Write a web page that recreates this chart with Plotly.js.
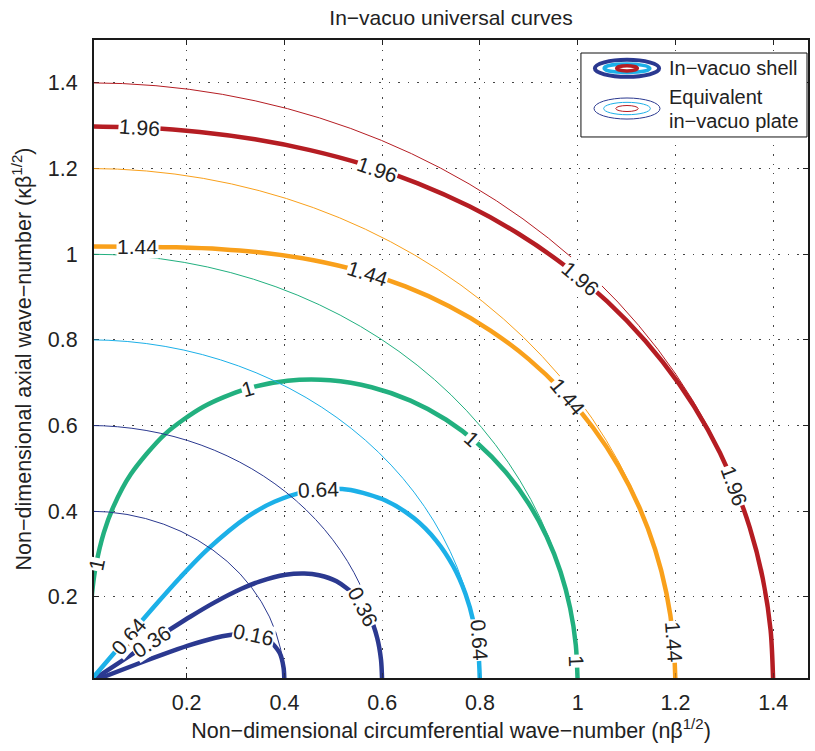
<!DOCTYPE html>
<html>
<head>
<meta charset="utf-8">
<script src="https://cdn.plot.ly/plotly-3.0.1.min.js"></script>
<style>html,body{margin:0;padding:0;background:#fff}#chart{width:815px;height:751px}</style>
</head>
<body>
<div id="chart"></div>
<script>
// ---- data ----
const levelNames = ["0.16", "0.36", "0.64", "1", "1.44", "1.96"];

// In-vacuo shell contours (non-dimensional n*beta^1/2, k*beta^1/2)
const shell016X = [0.4, 0.3983, 0.3904, 0.3682, 0.3408, 0.3105, 0.2884, 0.2570, 0.2014, 0.1504, 0.0949, 0];
const shell016Y = [0, 0.0348, 0.0688, 0.0987, 0.1107, 0.1130, 0.1107, 0.1039, 0.0855, 0.0651, 0.0414, 0];

const shell036X = [0.6, 0.5977, 0.5899, 0.5745, 0.5483, 0.5067, 0.4711, 0.4408, 0.4025, 0.3502, 0.3132, 0.2573, 0.2073, 0.1365, 0.0839, 0];
const shell036Y = [0, 0.0523, 0.1040, 0.1539, 0.1996, 0.2363, 0.2505, 0.2545, 0.2515, 0.2362, 0.2193, 0.1870, 0.1534, 0.1021, 0.0629, 0];

const shell064X = [0.8, 0.7969, 0.7874, 0.7706, 0.7454, 0.7105, 0.6647, 0.6069, 0.5356, 0.4849, 0.4469, 0.3806, 0.3249, 0.2423, 0.1877, 0.1382, 0.0961, 0];
const shell064Y = [0, 0.0697, 0.1388, 0.2065, 0.2713, 0.3313, 0.3838, 0.4250, 0.4494, 0.4522, 0.4469, 0.4226, 0.3872, 0.3101, 0.2464, 0.1834, 0.1279, 0];

const shell100X = [1, 0.9962, 0.9846, 0.9649, 0.9365, 0.8990, 0.8522, 0.7960, 0.7310, 0.6580, 0.5784, 0.4939, 0.4066, 0.3192, 0.2343, 0.1553, 0.0857, 0.0505, 0.0306, 0.0142, 0.0078, 0.0027];
const shell100Y = [0, 0.0872, 0.1736, 0.2585, 0.3408, 0.4192, 0.4920, 0.5574, 0.6134, 0.6580, 0.6893, 0.7054, 0.7043, 0.6845, 0.6438, 0.5794, 0.4861, 0.4112, 0.3497, 0.2716, 0.2221, 0.1571];

const shell144X = [1.2, 1.1954, 1.1816, 1.1585, 1.1258, 1.0834, 1.0313, 0.9699, 0.8997, 0.8217, 0.7371, 0.6474, 0.5544, 0.4596, 0.3648, 0.2711, 0.1792, 0.0890, 0];
const shell144Y = [0, 0.1046, 0.2084, 0.3104, 0.4098, 0.5052, 0.5954, 0.6791, 0.7550, 0.8217, 0.8785, 0.9246, 0.9602, 0.9857, 1.0022, 1.0116, 1.0160, 1.0176, 1.0179];

const shell196X = [1.4, 1.3947, 1.3786, 1.3519, 1.3144, 1.2662, 1.2075, 1.1386, 1.0603, 0.9734, 0.8790, 0.7784, 0.6728, 0.5638, 0.4524, 0.3398, 0.2266, 0.1133, 0];
const shell196Y = [0, 0.1220, 0.2431, 0.3622, 0.4784, 0.5904, 0.6971, 0.7973, 0.8897, 0.9734, 1.0476, 1.1116, 1.1654, 1.2090, 1.2430, 1.2682, 1.2853, 1.2951, 1.2984];

// Equivalent in-vacuo plate contours: circles of these radii
const plateRadius = [0.4, 0.6, 0.8, 1.0, 1.2, 1.4];

// Tick labels
const xTickVals = [0.2, 0.4, 0.6, 0.8, 1.0, 1.2, 1.4];
const xTickText = ["0.2", "0.4", "0.6", "0.8", "1", "1.2", "1.4"];
const yTickVals = [0.2, 0.4, 0.6, 0.8, 1.0, 1.2, 1.4];
const yTickText = ["0.2", "0.4", "0.6", "0.8", "1", "1.2", "1.4"];

// Contour labels (text, position on curve, rotation)
const labelText  = ["1.96", "1.96", "1.96", "1.96", "1.44", "1.44", "1.44", "1.44", "1", "1", "1", "1", "0.64", "0.64", "0.64", "0.36", "0.36", "0.16"];
const labelX     = [0.104, 0.590, 1.005, 1.320, 0.099, 0.571, 0.979, 1.196, 0.016, 0.326, 0.783, 0.9985, 0.081, 0.470, 0.7985, 0.128, 0.561, 0.336];
const labelY     = [1.296, 1.198, 0.943, 0.460, 1.0175, 0.954, 0.667, 0.095, 0.275, 0.686, 0.569, 0.050, 0.108, 0.451, 0.100, 0.096, 0.178, 0.111];
const labelAngle = [4, 19, 40, 70, 0, 18, 50, 86, -78, -16, 42, 88, -49, -2, 86, -33, 63, 12];

// ---- styles ----
const levelColors = ["#2B3990", "#2B3990", "#1CB0E8", "#22B07F", "#F9A01B", "#B51D23"];
const plateColors = ["#2B3990", "#2B3990", "#1CB0E8", "#22B07F", "#F9A01B", "#B51D23"];
const FONT = "Liberation Sans, Arial, Helvetica, sans-serif";
const FS = 21.5;

const shellXs = [shell016X, shell036X, shell064X, shell100X, shell144X, shell196X];
const shellYs = [shell016Y, shell036Y, shell064Y, shell100Y, shell144Y, shell196Y];

const traces = shellXs.map((xs, i) => ({
  type: "scatter", mode: "lines",
  x: xs, y: shellYs[i],
  name: levelNames[i],
  line: {color: levelColors[i], width: 4.5, shape: "spline", smoothing: 0.8},
  showlegend: false, hoverinfo: "skip"
}));

const shapes = plateRadius.map((r, i) => ({
  type: "circle", xref: "x", yref: "y",
  x0: -r, x1: r, y0: -r, y1: r,
  line: {color: plateColors[i], width: 1}, layer: "above"
}));

// custom legend box (paper coordinates)
shapes.push({type: "rect", xref: "paper", yref: "paper", x0: 0.682, x1: 0.9986, y0: 0.848, y1: 0.9796,
  line: {color: "#111", width: 1}, fillcolor: "#fff", layer: "above"});
function ell(cx, cy, rx, ry, color, w) {
  return {type: "circle", xref: "paper", yref: "paper", x0: cx - rx, x1: cx + rx, y0: cy - ry, y1: cy + ry,
    line: {color: color, width: w}, layer: "above"};
}
shapes.push(ell(0.7465, 0.9556, 0.0450, 0.0133, "#2B3990", 4));
shapes.push(ell(0.7465, 0.9556, 0.0320, 0.0066, "#1CB0E8", 3.5));
shapes.push(ell(0.7465, 0.9556, 0.0145, 0.0040, "#B51D23", 3.5));
shapes.push(ell(0.7465, 0.8926, 0.0462, 0.0165, "#2B3990", 1));
shapes.push(ell(0.7465, 0.8926, 0.0327, 0.0097, "#1CB0E8", 1));
shapes.push(ell(0.7465, 0.8926, 0.0157, 0.0047, "#B51D23", 1));

const annotations = labelText.map((t, i) => ({
  x: labelX[i], y: labelY[i], xref: "x", yref: "y",
  text: t, textangle: labelAngle[i], showarrow: false,
  xanchor: "center", yanchor: "middle",
  bgcolor: "#fff", borderpad: 0,
  font: {family: FONT, size: 21, color: "#222"}
}));
const legendTexts = ["In−vacuo shell", "Equivalent", "in−vacuo plate"];
const legendTextY = [0.956, 0.9107, 0.873];
legendTexts.forEach((t, i) => annotations.push({
  x: 0.8025, y: legendTextY[i], xref: "paper", yref: "paper",
  text: t, showarrow: false, xanchor: "left", yanchor: "middle",
  font: {family: FONT, size: 20, color: "#222"}
}));

const axisCommon = {
  ticks: "inside", ticklen: 5, tickwidth: 1, tickcolor: "#222",
  showline: true, linecolor: "#1a1a1a", linewidth: 2, mirror: "ticks",
  showgrid: true, gridcolor: "#444", gridwidth: 1, griddash: "1.5px,8px",
  zeroline: false, tickfont: {family: FONT, size: FS, color: "#222"},
  fixedrange: true
};

const layout = {
  width: 815, height: 751,
  margin: {l: 94, r: 7, t: 40, b: 73, pad: 0},
  paper_bgcolor: "#fff", plot_bgcolor: "#fff",
  font: {family: FONT, size: FS, color: "#222"},
  title: {text: "In−vacuo universal curves", x: 0.5, xref: "paper", xanchor: "center",
          y: 0.977, yref: "container", yanchor: "middle", font: {family: FONT, size: 21, color: "#222"}},
  xaxis: Object.assign({}, axisCommon, {
    range: [0.0105, 1.4712], tickmode: "array", tickvals: xTickVals, ticktext: xTickText,
    ticklabelstandoff: 4,
    title: {text: "Non−dimensional circumferential wave−number (nβ<sup>1/2</sup>)", standoff: 8,
            font: {family: FONT, size: FS, color: "#222"}}
  }),
  yaxis: Object.assign({}, axisCommon, {
    range: [0.0105, 1.5], tickmode: "array", tickvals: yTickVals, ticktext: yTickText,
    ticklabelstandoff: 10,
    title: {text: "Non−dimensional axial wave−number (κβ<sup>1/2</sup>)", standoff: 10,
            font: {family: FONT, size: FS, color: "#222"}}
  }),
  shapes: shapes,
  annotations: annotations,
  showlegend: false,
  hovermode: false
};

Plotly.newPlot("chart", traces, layout, {displayModeBar: false, staticPlot: true});
</script>
</body>
</html>
